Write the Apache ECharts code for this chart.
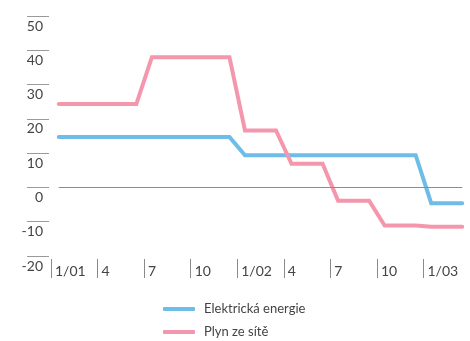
<!DOCTYPE html>
<html>
<head>
<meta charset="utf-8">
<script src="https://cdn.jsdelivr.net/npm/echarts@6/dist/echarts.min.js"></script>
<style>
  html, body { margin: 0; padding: 0; background: #fff; }
  #chart { width: 470px; height: 341px; }
</style>
</head>
<body>
<div id="chart"></div>
<script>
// Monthly index values, January 2001 to March 2003
const months = [
  '01/01','02/01','03/01','04/01','05/01','06/01','07/01','08/01','09/01','10/01','11/01','12/01',
  '01/02','02/02','03/02','04/02','05/02','06/02','07/02','08/02','09/02','10/02','11/02','12/02',
  '01/03','02/03','03/03'
];
const elektrina = [
  14.7, 14.7, 14.7, 14.7, 14.7, 14.7, 14.7, 14.7, 14.7, 14.7, 14.7, 14.7,
  9.4, 9.4, 9.4, 9.4, 9.4, 9.4, 9.4, 9.4, 9.4, 9.4, 9.4, 9.4,
  -4.6, -4.6, -4.6
];
const plyn = [
  24.3, 24.3, 24.3, 24.3, 24.3, 24.3, 38, 38, 38, 38, 38, 38,
  16.6, 16.6, 16.6, 6.9, 6.9, 6.9, -3.9, -3.9, -3.9, -11.1, -11.1, -11.1,
  -11.5, -11.5, -11.5
];
// Quarter labels shown after every third month boundary
const quarterLabels = ['1/01', '4', '7', '10', '1/02', '4', '7', '10', '1/03', ''];
const seriesNames = ['Elektrická energie', 'Plyn ze sítě'];
const seriesColors = ['#6dbde8', '#f497ad'];

const FONT = 'Lato';
const TEXT = '#444444';

const chart = echarts.init(document.getElementById('chart'), null, { renderer: 'canvas' });

const toPairs = arr => arr.map((v, i) => [i, v]);

// One legend block per series, stacked vertically under the plot
const legendTops = [301, 324];
const legends = seriesNames.map((name, i) => ({
  data: [name],
  left: 163,
  top: legendTops[i],
  padding: 0,
  itemWidth: 32,
  itemHeight: 4,
  icon: 'roundRect',
  textStyle: { fontFamily: FONT, fontSize: 13, lineHeight: 16, color: TEXT, padding: [0, 0, 0, 4] }
}));

chart.setOption({
  animation: false,
  backgroundColor: '#ffffff',
  grid: { left: 51, right: -1, top: 16, height: 240, containLabel: false },
  xAxis: {
    type: 'value',
    min: -0.5,
    max: months.length - 0.5,
    interval: 3,
    offset: 3,
    axisLine: { show: false, onZero: false },
    splitLine: { show: false },
    axisTick: { show: true, length: 19, lineStyle: { color: '#8a8a8a', width: 1 } },
    axisLabel: {
      align: 'left',
      margin: 5,
      padding: [0, 0, 0, 4],
      fontFamily: FONT,
      fontSize: 14,
      color: TEXT,
      showMaxLabel: false,
      formatter: v => quarterLabels[Math.round((v + 0.5) / 3)] || ''
    }
  },
  yAxis: {
    type: 'value',
    min: -20,
    max: 50,
    interval: 10,
    offset: 2,
    axisLine: { show: false, onZero: false },
    splitLine: { show: false },
    axisTick: { show: true, length: 22, lineStyle: { color: '#9a9a9a', width: 1 } },
    axisLabel: {
      verticalAlign: 'top',
      margin: 6,
      padding: [3, 0, 0, 0],
      fontFamily: FONT,
      fontSize: 14,
      color: TEXT
    }
  },
  legend: legends,
  series: [
    {
      name: seriesNames[0],
      type: 'line',
      data: toPairs(elektrina),
      symbol: 'none',
      z: 3,
      color: seriesColors[0],
      lineStyle: { width: 4, color: seriesColors[0], cap: 'round', join: 'miter' },
      markLine: {
        silent: true,
        symbol: 'none',
        label: { show: false },
        lineStyle: { color: '#8c8c8c', width: 1, type: 'solid' },
        data: [[{ coord: [0, 0] }, { coord: [months.length - 1, 0] }]]
      }
    },
    {
      name: seriesNames[1],
      type: 'line',
      data: toPairs(plyn),
      symbol: 'none',
      z: 4,
      color: seriesColors[1],
      lineStyle: { width: 4, color: seriesColors[1], cap: 'round', join: 'miter' }
    }
  ]
});
</script>
</body>
</html>
